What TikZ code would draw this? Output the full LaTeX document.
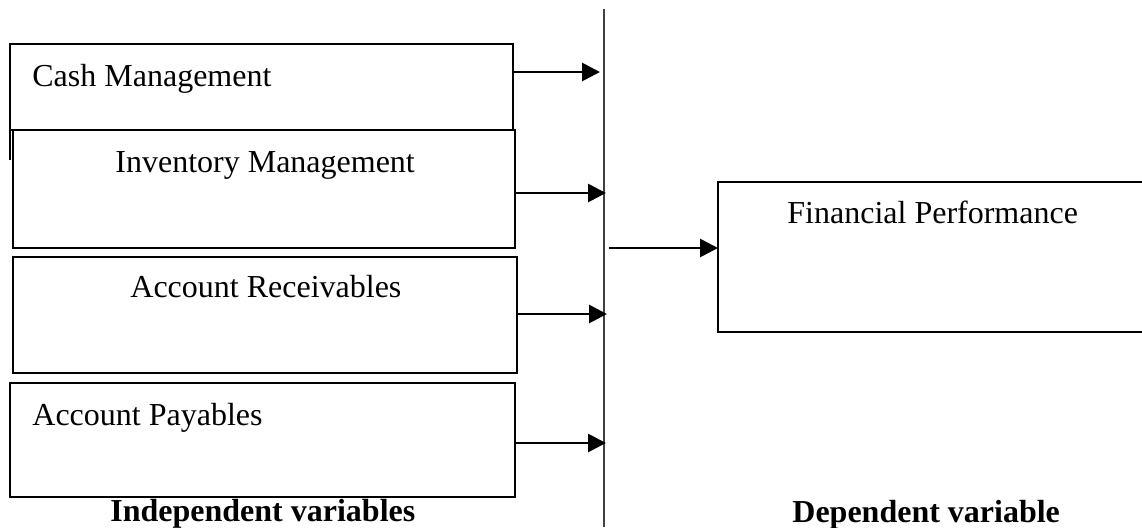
\documentclass[tikz,border=0pt]{standalone}
\usepackage{fontspec}
\setmainfont{Liberation Serif}
\usetikzlibrary{arrows.meta}

\begin{document}
\begin{tikzpicture}[x=0.5pt,y=-0.5pt,
    box/.style={draw,line width=1.4pt,rectangle,inner sep=0pt,outer sep=0pt,anchor=north west},
    lbl/.style={anchor=base west,inner sep=0pt,font=\fontsize{16pt}{19pt}\selectfont},
    hd/.style={anchor=base west,inner sep=0pt,font=\fontsize{16pt}{19pt}\selectfont\bfseries},
    arr/.style={-{Triangle[length=9pt,width=9pt]},line width=1.4pt}]
        \useasboundingbox (0,0) rectangle (1142,527);
        \clip (0,0) rectangle (1142,527);
        % independent variables
        \node[box,minimum width=251.5pt,minimum height=43pt] (cash) at (10,44) {};
        \node[box,minimum width=251pt,minimum height=59pt] (inv) at (13,130) {};
        \node[box,minimum width=252pt,minimum height=58pt] (rec) at (13,257) {};
        \node[box,minimum width=252.5pt,minimum height=57pt] (pay) at (10,383) {};
        \draw[line width=1.4pt] (cash.south west)--++(0,30);
        \node[lbl] (cashtxt) at (32,86) {Cash Management};
        \node[lbl] (invtxt) at (115,172) {Inventory Management};
        \node[lbl] (rectxt) at (130,297) {Account Receivables};
        \node[lbl] (paytxt) at (32,425) {Account Payables};
        % dividing line
        \coordinate (top) at (604,9);
        \coordinate (bot) at (604,527);
        \draw[line width=0.7pt,black!75](top)--(bot);
        \coordinate (l1) at (600,72);
        \coordinate (l2) at (606,193);
        \coordinate (l3) at (607,314);
        \coordinate (l4) at (606,443);
        \draw[arr](cash.east |- l1)--(l1);
        \draw[arr](inv.east |- l2)--(l2);
        \draw[arr](rec.east |- l3)--(l3);
        \draw[arr](pay.east |- l4)--(l4);
        % dependent variable
        \node[box,minimum width=221pt,minimum height=75pt] (fin) at (718,182) {};
        \node[lbl] (fintxt) at (787,223) {Financial Performance};
        \coordinate (l5) at (609,248);
        \draw[arr](l5)--(fin.west |- l5);
        \node[hd] (indep) at (110,521) {Independent variables};
        \node[hd] (dep) at (792,522) {Dependent variable};
    \end{tikzpicture}
\end{document}
